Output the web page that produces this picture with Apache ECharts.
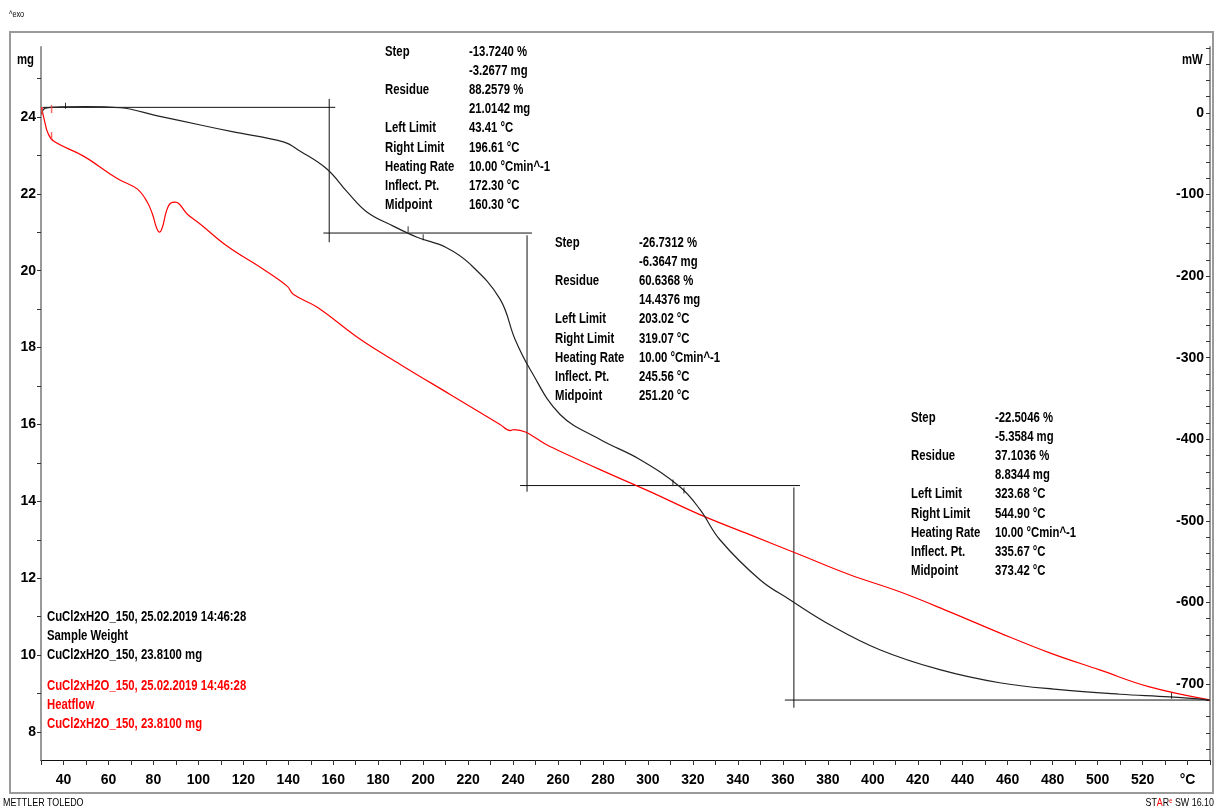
<!DOCTYPE html>
<html><head><meta charset="utf-8">
<script src="https://cdn.jsdelivr.net/npm/echarts@6/dist/echarts.min.js"></script>
<style>html,body{margin:0;padding:0;background:#fff}#c{width:1216px;height:809px}</style>
</head><body><div id="c"></div>
<script>
// ---- data ----
const tgaT  = [30.2, 32, 38.7, 50, 65.3, 81.8, 100.9, 115.6, 137.8, 145.3, 157.3, 166.2, 175.1, 186.7, 197.3, 210, 220.9, 234.2, 240.9, 247.6, 260.9, 278.7, 296.4, 314.2, 323.1, 332, 349.8, 363.1, 380.9, 403.1, 429.8, 456.4, 483.1, 510, 532, 549.8];
const tgaMg = [24.08, 24.23, 24.26, 24.27, 24.24, 24.03, 23.79, 23.61, 23.35, 23.11, 22.64, 22.05, 21.52, 21.16, 20.87, 20.61, 20.17, 19.26, 18.21, 17.43, 16.26, 15.61, 15.09, 14.38, 13.79, 13.00, 11.96, 11.44, 10.79, 10.14, 9.62, 9.28, 9.10, 8.98, 8.91, 8.83];
const dscT  = [30.2, 31.6, 32.9, 35.6, 48.9, 60.9, 65.3, 72.9, 77.3, 79.6, 81.3, 82.7, 84.0, 85.8, 87.6, 89.8, 95.1, 100.9, 112.9, 128.9, 139.6, 142.2, 152.9, 172.0, 189.8, 212.0, 234.2, 238.7, 240.4, 256.4, 278.7, 300.9, 323.1, 345.3, 367.6, 389.8, 412.0, 434.2, 456.4, 478.7, 500.9, 523.1, 549.8];
const dscMw = [7.4, -9.8, -23.3, -34.4, -52.8, -74.9, -82.3, -93.3, -109.3, -124.0, -140.0, -146.1, -140.0, -120.3, -110.5, -109.3, -124.0, -136.3, -163.3, -191.6, -212.5, -222.3, -238.2, -277.5, -308.2, -345.1, -381.9, -389.3, -388.1, -408.9, -437.2, -464.2, -492.4, -517.0, -541.6, -566.1, -587.0, -611.6, -637.4, -661.9, -682.8, -703.7, -719.6];
// step evaluation lines: [T, mg] segments
const stepLinesT  = [[30.7,160.9],[158.2,158.2],[155.6,248.4],[246.2,246.2],[243.1,367.6],[364.9,364.9],[360.9,549.8]];
const stepLinesMg = [[24.25,24.25],[24.47,20.74],[20.98,20.98],[20.92,14.25],[14.41,14.41],[14.36,8.63],[8.83,8.83]];
const limitMarkT  = [40.9, 193.3, 200.0, 311.1, 316.0, 532.9];
const limitMarkMg = [24.29, 21.08, 20.87, 14.49, 14.28, 8.94];
const dscMarkT  = [30.5, 34.7, 34.7];
const dscMarkMw = [2.5, 4.9, -28.2];
const xTicks = [40,60,80,100,120,140,160,180,200,220,240,260,280,300,320,340,360,380,400,420,440,460,480,500,520];
const mgTicks = [8,10,12,14,16,18,20,22,24];
const mwTicks = [-700,-600,-500,-400,-300,-200,-100,0];
const rowLabels = ['Step','','Residue','','Left Limit','Right Limit','Heating Rate','Inflect. Pt.','Midpoint'];
const step1Vals = ['-13.7240 %','-3.2677 mg','88.2579 %','21.0142 mg','43.41 °C','196.61 °C','10.00 °Cmin^-1','172.30 °C','160.30 °C'];
const step2Vals = ['-26.7312 %','-6.3647 mg','60.6368 %','14.4376 mg','203.02 °C','319.07 °C','10.00 °Cmin^-1','245.56 °C','251.20 °C'];
const step3Vals = ['-22.5046 %','-5.3584 mg','37.1036 %','8.8344 mg','323.68 °C','544.90 °C','10.00 °Cmin^-1','335.67 °C','373.42 °C'];
const legendBlack = ['CuCl2xH2O_150, 25.02.2019 14:46:28','Sample Weight','CuCl2xH2O_150, 23.8100 mg'];
const legendRed = ['CuCl2xH2O_150, 25.02.2019 14:46:28','Heatflow','CuCl2xH2O_150, 23.8100 mg'];

// ---- build ----
const FONT = '"Liberation Sans",Arial,sans-serif';
const SX = 0.81;
const chart = echarts.init(document.getElementById('c'), null, {renderer:'canvas'});
const zip = (a,b) => a.map((v,i)=>[v,b[i]]);
const stepData = [];
stepLinesT.forEach((seg,i)=>{ stepData.push([seg[0],stepLinesMg[i][0]]); stepData.push([seg[1],stepLinesMg[i][1]]); stepData.push('-'); });
stepData.pop();
const mgMinor=[]; for(let v=8; v<=25; v++) mgMinor.push(v);
const mwMinor=[]; for(let v=-780; v<=80; v+=20) mwMinor.push(v);

const texts = [];
function txt(x, y, s, color, size, weight, align){
  return {type:'text', x:x, y:y, scaleX:SX, silent:true,
    style:{text:s, font:(weight||'bold')+' '+(size||14)+'px '+FONT, fill:color||'#000', verticalAlign:'middle', align:align||'left'}};
}
function block(x0, x1, y0, vals){
  vals.forEach((v,i)=>{
    const y = y0 + i*19.15;
    if(rowLabels[i]) texts.push(txt(x0, y, rowLabels[i]));
    texts.push(txt(x1, y, v));
  });
}
block(385, 469, 52, step1Vals);
block(555, 639, 243, step2Vals);
block(911, 995, 418, step3Vals);
legendBlack.forEach((t,i)=>texts.push(txt(47, 617+i*19.2, t)));
legendRed.forEach((t,i)=>texts.push(txt(47, 686+i*19.2, t, '#ff0000')));

const option = {
  animation:false,
  backgroundColor:'#fff',
  grid:{left:41, right:6, top:47, bottom:49, containLabel:false},
  xAxis:{type:'value', min:30, max:550, interval:10,
    axisLine:{onZero:false, lineStyle:{color:'#111', width:1}},
    axisTick:{length:5, lineStyle:{color:'#333'}},
    splitLine:{show:false},
    axisLabel:{margin:13, color:'#000', fontFamily:FONT, fontWeight:'bold', fontSize:14,
      formatter:v=> xTicks.indexOf(v)>=0 ? String(v) : (v===540 ? '°C' : '')}},
  yAxis:[
    {type:'value', min:7.27, max:25.82, position:'left',
      axisLine:{show:true, onZero:false, lineStyle:{color:'#999', width:2}},
      axisTick:{show:true, length:4, customValues:mgMinor, lineStyle:{color:'#333'}},
      axisLabel:{customValues:mgTicks, margin:5, color:'#000', fontFamily:FONT, fontWeight:'bold', fontSize:14},
      splitLine:{show:false}},
    {type:'value', min:-793.3, max:81, position:'right',
      axisLine:{show:true, onZero:false, lineStyle:{color:'#999', width:2}},
      axisTick:{show:true, inside:true, length:4, customValues:mwMinor, lineStyle:{color:'#333'}},
      axisLabel:{inside:true, customValues:mwTicks, margin:6, color:'#000', fontFamily:FONT, fontWeight:'bold', fontSize:14},
      splitLine:{show:false}}
  ],
  series:[
    {name:'steps', type:'line', data:stepData, symbol:'none', connectNulls:false, lineStyle:{color:'#111', width:1}, z:2},
    {name:'Heatflow', type:'line', yAxisIndex:1, data:zip(dscT,dscMw), symbol:'none', smooth:0.4, lineStyle:{color:'#ff0000', width:1.2}, z:3},
    {name:'Sample Weight', type:'line', data:zip(tgaT,tgaMg), symbol:'none', smooth:0.4, lineStyle:{color:'#222', width:1.2}, z:4},
    {name:'marks', type:'scatter', data:zip(limitMarkT,limitMarkMg), symbol:'rect', symbolSize:[1,6], itemStyle:{color:'#000'}, z:5},
    {name:'dscMarks', type:'scatter', yAxisIndex:1, data:zip(dscMarkT,dscMarkMw), symbol:'rect', symbolSize:[1.5,8], itemStyle:{color:'#ff4040'}, z:5}
  ],
  graphic:[
    {type:'rect', shape:{x:10, y:32, width:1203, height:761}, style:{fill:null, stroke:'#9a9a9a', lineWidth:2}, silent:true},
    txt(9, 15, '^exo', '#000', 9, 'normal'),
    txt(17, 60, 'mg'),
    txt(1182, 60, 'mW'),
    txt(3, 803, 'METTLER TOLEDO', '#000', 11, 'normal'),
    {type:'text', x:1214, y:803, scaleX:SX, silent:true, style:{align:'right', verticalAlign:'middle', rich:{b:{font:'11px '+FONT, fill:'#000'}, r:{font:'11px '+FONT, fill:'#ff0000'}, s:{font:'7px '+FONT, fill:'#ff0000', verticalAlign:'top'}}, text:'{b|ST}{r|A}{b|R}{s|e}{b| SW 16.10}'}},
    ...texts
  ]
};
chart.setOption(option);
</script></body></html>
